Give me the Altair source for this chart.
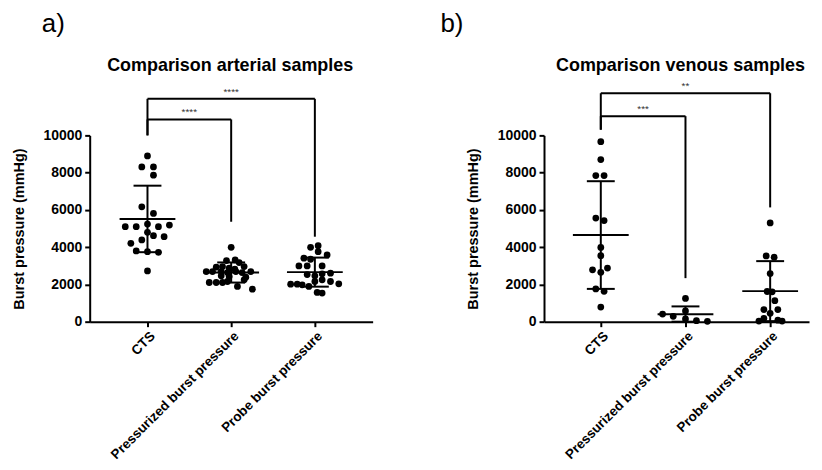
import altair as alt
import pandas as pd

FONT = "Liberation Sans"
groups = ["CTS", "Pressurized burst pressure", "Probe burst pressure"]
yticks = [0, 2000, 4000, 6000, 8000, 10000]

# ---------- panel a: arterial ----------
a_cts = [8895, 8307, 8307, 7861, 6167, 5810, 5098, 5098, 5241, 5098, 5187, 4795,
         4385, 4617, 4562, 4207, 3797, 3760, 3725, 2727]
a_cts_jit = [0, -5.7, 6, 6, -5.7, 6, -22.3, -11.3, 0, 11, 22, 0, -5.7, 6, 16.7,
             -16.7, -11.3, 0, 11, 0]
a_pres = [3993, 3280, 3316, 3173, 2923, 2959, 2870, 2816, 2959, 2692, 2692, 2692,
          2638, 2692, 2638, 2692, 2460, 2424, 2389, 2103, 2103, 2103, 2157, 2246,
          1889, 1746]
a_pres_jit = [0, -4.7, 4, 8, -15, -8.7, -2, 3.7, 13, -25, -18.7, -10, -3.7, 4.7,
              11, 19.7, -10, -2, 14.7, -22, -15, -8.7, -3.7, 13, 6.3, 21.3]
a_probe = [3993, 4082, 3760, 3405, 3351, 3583, 2995, 2995, 2995, 2530, 2460, 2567,
           2603, 2157, 2246, 2157, 2014, 2014, 1979, 1889, 2032, 1568, 1533]
a_probe_jit = [-4.3, 3.3, 3.3, -11, -4.3, 12.3, -16, -7.7, 7.3, -7.7, 0, 7.3, 15.7,
               0, 7.3, 15.7, -24.3, -17.7, -12.7, -6, 24, 2.3, 7.3]
a_mean = [5515, 2640, 2660]
a_sd = [1785, 540, 780]
# brackets: (from, to, top, left leg bottom, right leg bottom, label)
a_brackets = [(0, 1, 10856, 10000, 5364, "****"),
              (0, 2, 11963, 10000, 4561, "****")]

# ---------- panel b: venous ----------
b_cts = [9660, 8700, 7840, 7840, 5560, 5430, 3985, 3540, 2781, 2650, 2880, 1755,
         1630, 786]
b_cts_jit = [0, 0, -5, 3.3, -5, 3.3, 0, 0, -8.3, 0, 6.7, -5, 3.3, 0]
b_pres = [1250, 580, 410, 285, 144, 53, 20]
b_pres_jit = [0, 0, -23, -12.3, 0, 11, 22]
b_probe = [5300, 3530, 3460, 2580, 1620, 1600, 1130, 650, 650, 450, 180, 80, 30, 30]
b_probe_jit = [0, -4, 4, 0, -3, 2, 4.7, -6.3, 7.7, 0, -6.3, 7.7, -11.3, 12]
b_mean = [4650, 400, 1640]
b_sd = [2890, 420, 1610]
b_brackets = [(0, 1, 11032, 10305, 2337, "***"),
              (0, 2, 12262, 10305, 6134, "**")]


def panel(tag, title, vals, jits, means, sds, brackets, width, step, left_px,
          tag_x, title_x):
    rows = []
    for gi, (v, j) in enumerate(zip(vals, jits)):
        for yy, jj in zip(v, j):
            rows.append({"x": gi + jj / step, "y": yy})
    pts = pd.DataFrame(rows)
    stats = pd.DataFrame({
        "x": [0, 1, 2],
        "mean": means,
        "hi": [m + s for m, s in zip(means, sds)],
        "lo": [max(0, m - s) for m, s in zip(means, sds)],
    })
    segs = []
    labs = []
    for i, k, top, lb, rb, lab in brackets:
        segs.append({"x": i, "x2": k, "y": top, "y2": top})
        segs.append({"x": i, "x2": i, "y": top, "y2": lb})
        segs.append({"x": k, "x2": k, "y": top, "y2": rb})
        labs.append({"x": (i + k) / 2, "y": top, "t": lab})
    segs = pd.DataFrame(segs)
    labs = pd.DataFrame(labs)

    xdom = [-left_px / step, -left_px / step + width / step]
    xs = alt.Scale(domain=xdom, nice=False, zero=False)
    ys = alt.Scale(domain=[0, 10000], nice=False, zero=True)
    xaxis = alt.Axis(values=[0, 1, 2],
                     labelExpr="['CTS','Pressurized burst pressure','Probe burst pressure'][datum.value]",
                     labelAngle=-45, labelFontSize=13.5, labelFontWeight="bold",
                     labelColor="black", labelFont=FONT, labelPadding=2,
                     labelLimit=400,
                     labelOverlap=False, labelBound=False, labelFlush=False,
                     domainColor="black", domainWidth=2, tickColor="black",
                     tickWidth=2, tickSize=5, grid=False, title=None)
    yaxis = alt.Axis(values=yticks, format="d", labelFontSize=14,
                     labelFontWeight="bold", labelColor="black", labelFont=FONT,
                     labelPadding=3, labelOverlap=False, labelFlush=False,
                     domainColor="black", domainWidth=2,
                     tickColor="black", tickWidth=2, tickSize=5, grid=False,
                     title="Burst pressure (mmHg)", titleFontSize=14.5,
                     titleFontWeight="bold", titleColor="black", titleFont=FONT,
                     titlePadding=17)

    def X(f):
        return alt.X(f, scale=xs, axis=xaxis)

    def Y(f):
        return alt.Y(f, scale=ys, axis=yaxis)

    p = alt.Chart(pts).mark_circle(size=46, color="black", opacity=1).encode(
        x=X("x:Q"), y=Y("y:Q"))
    sd_rule = alt.Chart(stats).mark_rule(color="black", strokeWidth=2).encode(
        x=X("x:Q"), y=Y("lo:Q"), y2="hi:Q")
    mean_t = alt.Chart(stats).mark_tick(orient="horizontal", size=56, thickness=2,
                                         color="black", opacity=1).encode(
        x=X("x:Q"), y=Y("mean:Q"))
    cap_hi = alt.Chart(stats).mark_tick(orient="horizontal", size=28, thickness=2,
                                         color="black", opacity=1).encode(
        x=X("x:Q"), y=Y("hi:Q"))
    cap_lo = alt.Chart(stats).mark_tick(orient="horizontal", size=28, thickness=2,
                                         color="black", opacity=1).encode(
        x=X("x:Q"), y=Y("lo:Q"))
    br = alt.Chart(segs).mark_rule(color="black", strokeWidth=2, clip=False).encode(
        x=X("x:Q"), x2="x2:Q", y=Y("y:Q"), y2="y2:Q")
    bl = alt.Chart(labs).mark_text(fontSize=10, color="#333333", dy=-7,
                                   font=FONT, clip=False).encode(
        x=X("x:Q"), y=Y("y:Q"), text="t:N")
    tg = alt.Chart(pd.DataFrame({"t": [tag]})).mark_text(
        fontSize=26, font=FONT, align="left", baseline="middle", color="black"
    ).encode(text="t:N", x=alt.value(tag_x), y=alt.value(-112))
    tt = alt.Chart(pd.DataFrame({"t": [title]})).mark_text(
        fontSize=18, font=FONT, fontWeight="bold", align="center",
        baseline="middle", color="black"
    ).encode(text="t:N", x=alt.value(title_x), y=alt.value(-70))
    return alt.layer(p, sd_rule, mean_t, cap_hi, cap_lo, br, bl, tg, tt).properties(
        width=width, height=187)


pa = panel("a)", "Comparison arterial samples", [a_cts, a_pres, a_probe],
           [a_cts_jit, a_pres_jit, a_probe_jit], a_mean, a_sd, a_brackets,
           284, 84, 58, -48, 141)
pb = panel("b)", "Comparison venous samples", [b_cts, b_pres, b_probe],
           [b_cts_jit, b_pres_jit, b_probe_jit], b_mean, b_sd, b_brackets,
           266, 85, 57, -104, 137)

chart = alt.hconcat(pa, pb, spacing=68).configure(
    font=FONT, padding={"left": 3, "top": 2, "right": 5, "bottom": 2}
).configure_view(stroke=None)
chart.save("out.html", embed_options={"renderer": "svg", "actions": False})
